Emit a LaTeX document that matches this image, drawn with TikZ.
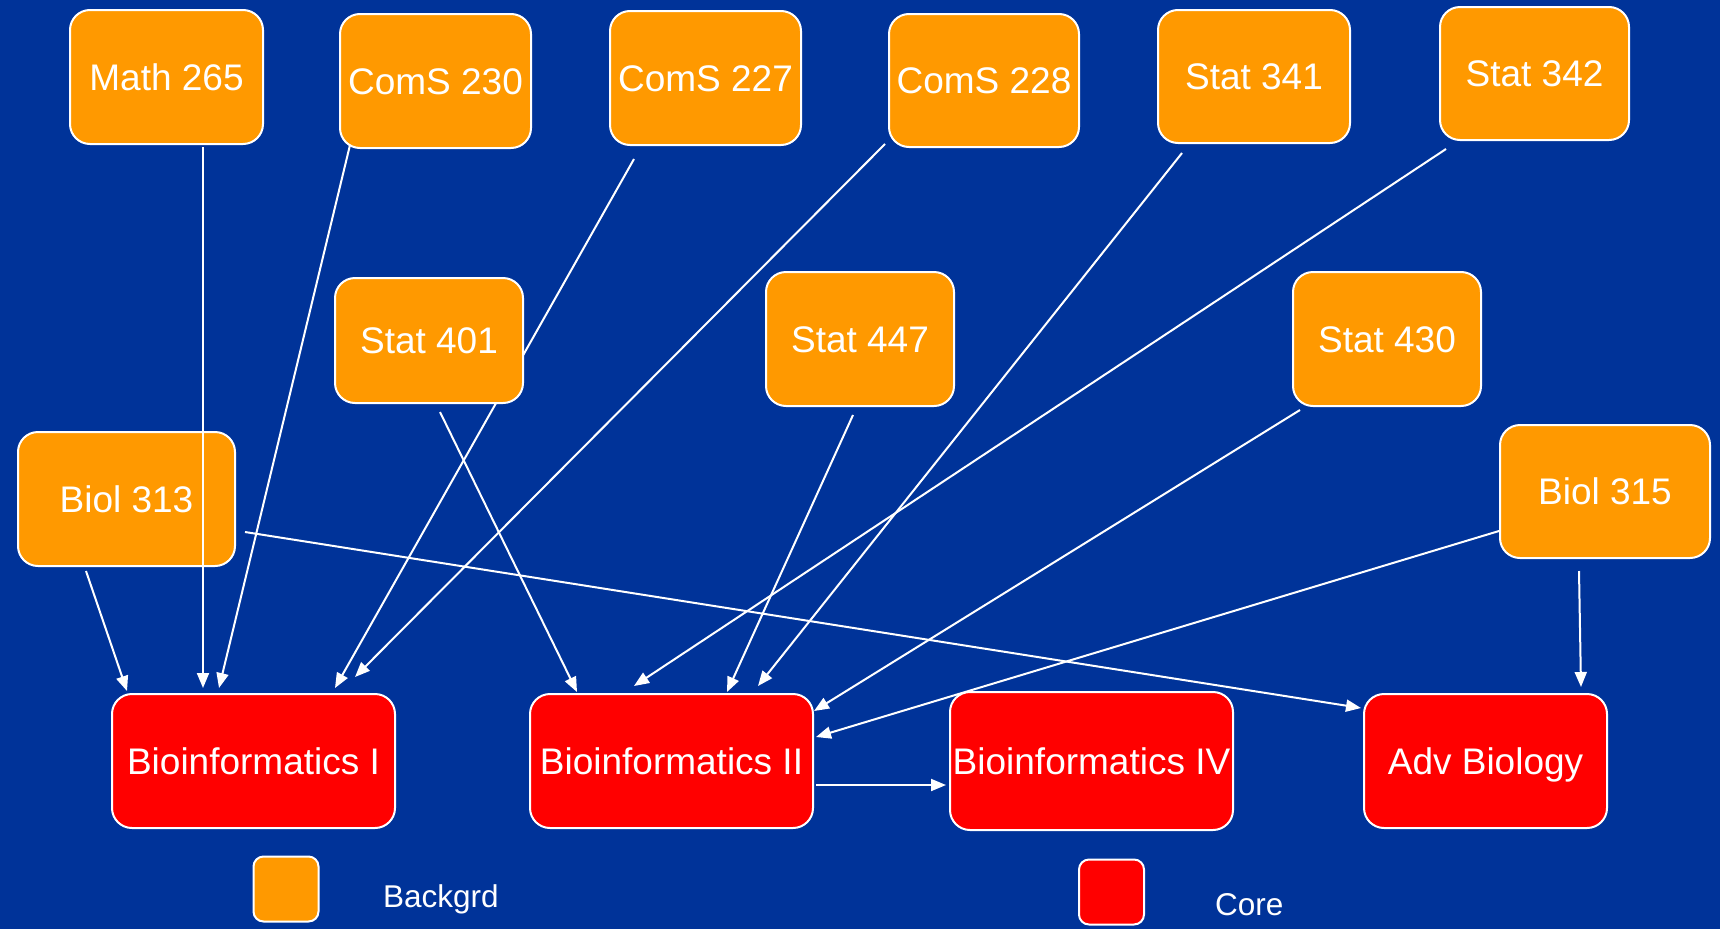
\documentclass[tikz,border=0pt]{standalone}
\usepackage{fontspec}
\setmainfont{Liberation Sans}
\usetikzlibrary{arrows.meta,calc}
\pgfdeclarelayer{bg}
\pgfdeclarelayer{mid}
\pgfsetlayers{bg,mid,main}
\definecolor{bgblue}{HTML}{003399}
\definecolor{bgorange}{HTML}{FF9900}
\definecolor{corered}{HTML}{FF0000}
\tikzset{
  course/.style={draw=white, line width=2pt, rounded corners=20pt, inner sep=0pt,
    text=white, font=\fontsize{37}{44}\selectfont, text height=26.5pt, text depth=0pt,
    align=center},
  bgnode/.style={course, fill=bgorange},
  corenode/.style={course, fill=corered},
  legbox/.style={draw=white, line width=2pt, rounded corners=10pt, minimum width=65pt, minimum height=65pt},
  legtext/.style={text=white, font=\fontsize{31.5}{38}\selectfont, inner sep=0pt, anchor=base west},
  conn/.style={draw=white, line width=2pt, -{Triangle[length=15pt,width=12pt]}},
}
\begin{document}
\begin{tikzpicture}[x=1pt,y=-1pt]
\begin{pgfonlayer}{bg}
\fill[bgblue] (0,0) rectangle (1720,929);
\end{pgfonlayer}
\useasboundingbox (0,0) rectangle (1720,929);

% background courses
\node[bgnode, minimum width=193pt, minimum height=134pt] (math) at (166.5,77) {Math 265};
\node[bgnode, minimum width=191pt, minimum height=134pt] (c230) at (435.5,81) {ComS 230};
\node[bgnode, minimum width=191pt, minimum height=134pt] (c227) at (705.5,78) {ComS 227};
\node[bgnode, minimum width=190pt, minimum height=133pt] (c228) at (984,80.5) {ComS 228};
\node[bgnode, minimum width=192pt, minimum height=133pt] (s341) at (1254,76.5) {Stat 341};
\node[bgnode, minimum width=189pt, minimum height=133pt] (s342) at (1534.5,73.5) {Stat 342};
\node[bgnode, minimum width=188pt, minimum height=125pt] (s401) at (429,340.5) {Stat 401};
\node[bgnode, minimum width=188pt, minimum height=134pt] (s447) at (860,339) {Stat 447};
\node[bgnode, minimum width=188pt, minimum height=134pt] (s430) at (1387,339) {Stat 430};
\node[bgnode, minimum width=217pt, minimum height=134pt] (b313) at (126.5,499) {Biol 313};
\node[bgnode, minimum width=210pt, minimum height=133pt] (b315) at (1605,491.5) {Biol 315};

% core courses
\node[corenode, minimum width=283pt, minimum height=134pt] (bioI) at (253.5,761) {Bioinformatics I};
\node[corenode, minimum width=283pt, minimum height=134pt] (bioII) at (671.5,761) {Bioinformatics II};
\node[corenode, minimum width=283pt, minimum height=138pt] (bioIV) at (1091.5,761) {Bioinformatics IV};
\node[corenode, minimum width=243pt, minimum height=134pt] (adv) at (1485.5,761) {Adv Biology};

% legend
\node[legbox, fill=bgorange] (legbg) at (286,889) {};
\node[legtext] (legbgt) at (383,907) {Backgrd};
\node[legbox, fill=corered] (legcore) at (1111.5,892) {};
\node[legtext] (legcoret) at (1215,915) {Core};

% connector hidden behind Stat 401
\begin{pgfonlayer}{mid}
\draw[conn] ($(c227.south)+(-71.5,13)$) -- ($(bioI.north)+(81.5,-5)$);
\end{pgfonlayer}

% connectors
\draw[conn] ($(math.south)+(36.5,2)$) -- ($(bioI.north)+(-50.5,-5)$);
\draw[conn] ($(c230.south)+(-85.5,-4)$) -- ($(bioI.north)+(-34.5,-5)$);
\draw[conn] ($(c228.south west)+(-3,-4)$) -- ($(bioI.north)+(101.5,-16)$);
\draw[conn] ($(b313.south)+(-40.5,4)$) -- ($(bioI.north)+(-126.5,-2)$);

\draw[conn] ($(s341.south)+(-72,9)$) -- ($(bioII.north)+(86.5,-7)$);
\draw[conn] ($(s342.south west)+(7,8)$) -- ($(bioII.north)+(-37.5,-7)$);
\draw[conn] ($(s401.south)+(11,8)$) -- ($(bioII.north)+(-94.5,-1)$);
\draw[conn] ($(s447.south)+(-7,8)$) -- ($(bioII.north)+(55.5,-1)$);
\draw[conn] ($(s430.south west)+(8,3)$) -- ($(bioII.north east)+(0,18)$);
\draw[conn] ($(b315.west)+(0,39.5)$) -- ($(bioII.east)+(2,-24)$);

\draw[conn] ($(b315.south)+(-26,12)$) -- ($(adv.north)+(95.5,-6)$);
\draw[conn] ($(b313.east)+(9,33)$) -- ($(adv.west)+(-2,-53)$);

\draw[conn] ($(bioII.east)+(2,24)$) -- ($(bioIV.west)+(-3,24)$);
\end{tikzpicture}
\end{document}
